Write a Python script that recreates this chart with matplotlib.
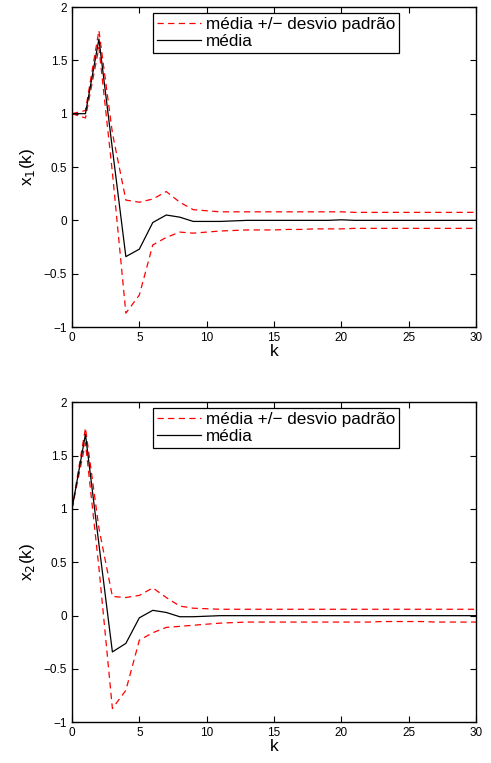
import numpy as np
import matplotlib
matplotlib.use("Agg")
import matplotlib.pyplot as plt

plt.rcParams['font.family'] = ['Liberation Sans', 'DejaVu Sans']

k = np.arange(0, 31)

# x1(k): mean, mean + std, mean - std
x1_mean = [1.0, 1.0, 1.70, 0.67, -0.34, -0.27, -0.02, 0.05, 0.03, -0.01,
           -0.01, -0.01, -0.005, 0.0, 0.0, 0.0, 0.0, 0.0, 0.0, 0.0,
           0.005, 0.0, 0.0, 0.0, 0.0, 0.0, 0.0, 0.0, 0.0, 0.0, 0.0]
x1_up = [1.0, 1.03, 1.78, 0.82, 0.19, 0.17, 0.20, 0.27, 0.17, 0.10,
         0.09, 0.08, 0.08, 0.08, 0.08, 0.08, 0.08, 0.08, 0.08, 0.08,
         0.08, 0.075, 0.075, 0.075, 0.075, 0.075, 0.075, 0.075, 0.075, 0.075, 0.075]
x1_low = [1.0, 0.96, 1.62, 0.45, -0.87, -0.70, -0.23, -0.16, -0.11, -0.12,
          -0.11, -0.10, -0.095, -0.09, -0.09, -0.09, -0.085, -0.085, -0.08, -0.08,
          -0.08, -0.075, -0.075, -0.075, -0.075, -0.075, -0.075, -0.075, -0.075, -0.075, -0.075]

# x2(k)
x2_mean = [1.0, 1.70, 0.67, -0.34, -0.26, -0.02, 0.05, 0.03, -0.01, -0.01,
           -0.005, 0.0, 0.0, 0.0, 0.0, 0.0, 0.0, 0.0, 0.0, 0.0,
           0.0, 0.0, 0.0, 0.0, 0.0, 0.0, 0.0, 0.0, 0.0, 0.0, 0.0]
x2_up = [1.0, 1.76, 0.82, 0.18, 0.17, 0.19, 0.26, 0.17, 0.09, 0.07,
         0.065, 0.06, 0.06, 0.06, 0.06, 0.06, 0.06, 0.06, 0.06, 0.06,
         0.06, 0.06, 0.06, 0.06, 0.06, 0.06, 0.06, 0.06, 0.06, 0.06, 0.06]
x2_low = [1.0, 1.62, 0.45, -0.87, -0.70, -0.23, -0.16, -0.11, -0.10, -0.09,
          -0.08, -0.07, -0.065, -0.06, -0.06, -0.06, -0.06, -0.06, -0.06, -0.06,
          -0.06, -0.06, -0.06, -0.055, -0.055, -0.055, -0.055, -0.06, -0.06, -0.06, -0.06]

series = [
    (x1_mean, x1_up, x1_low, r'x$_1$(k)'),
    (x2_mean, x2_up, x2_low, r'x$_2$(k)'),
]

fig = plt.figure(figsize=(4.91, 7.63), dpi=100)
positions = [[0.1466, 0.5714, 0.823, 0.4194], [0.1466, 0.0533, 0.823, 0.4194]]

for pos, (mean, up, low, ylab) in zip(positions, series):
    ax = fig.add_axes(pos)
    ax.plot(k, up, color='red', linestyle=(0, (5, 3.5)), lw=0.9, label='média +/− desvio padrão')
    ax.plot(k, low, color='red', linestyle=(0, (5, 3.5)), lw=0.9)
    ax.plot(k, mean, color='black', lw=0.9, label='média')
    ax.set_xlim(0, 30)
    ax.set_ylim(-1, 2)
    ax.set_xticks(range(0, 31, 5))
    ax.set_yticks([-1, -0.5, 0, 0.5, 1, 1.5, 2])
    ax.set_yticklabels(['−1', '−0.5', '0', '0.5', '1', '1.5', '2'])
    ax.tick_params(direction='in', top=True, right=True, labelsize=8.5, length=4, width=0.8)
    for s in ax.spines.values():
        s.set_linewidth(1.0)
    ax.set_xlabel('k', fontsize=12.5, labelpad=0)
    ax.set_ylabel(ylab, fontsize=12.5, labelpad=5)
    leg = ax.legend(loc='upper left', bbox_to_anchor=(0.201, 0.982), fontsize=12.3,
                    fancybox=False, edgecolor='black', framealpha=1,
                    handlelength=2.6, borderpad=0.22, labelspacing=0.15,
                    handletextpad=0.25, borderaxespad=0)
    leg.get_frame().set_linewidth(0.9)

fig.savefig('out.png', dpi=100)
